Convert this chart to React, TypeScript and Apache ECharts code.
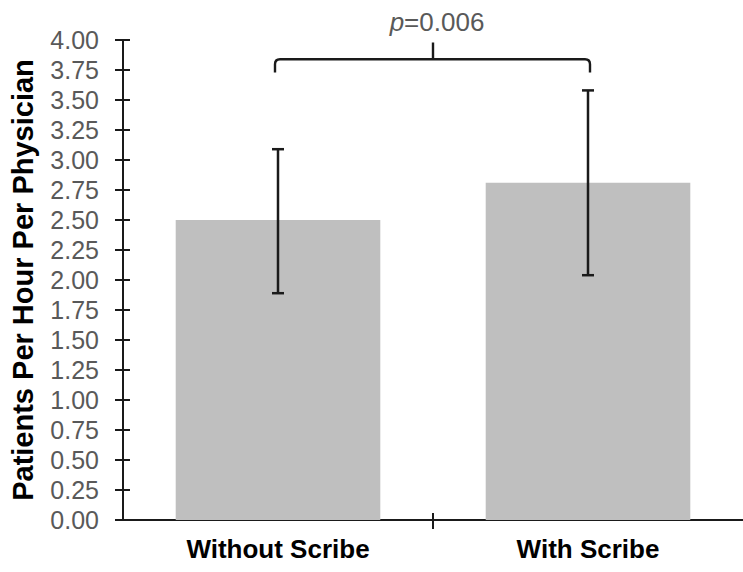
import React, { useEffect, useRef } from "react";
import * as echarts from "echarts";

const categories = ["Without Scribe", "With Scribe"];
const means = [2.5, 2.81];
const errLow = [1.89, 2.04];
const errHigh = [3.09, 3.58];
const yMin = 0;
const yMax = 4;
const yStep = 0.25;
const pLabel = "=0.006";
// bracket annotation levels (value units)
const bracketLevel = 3.84;
const bracketEnd = 3.73;
const bracketPeak = 3.98;
const pTextLevel = 4.15;

const FONT = "'Liberation Sans', Arial, sans-serif";
const INK = "#1a1a1a";

export default function App() {
  const ref = useRef<HTMLDivElement>(null);
  useEffect(() => {
    if (!ref.current) return;
    const chart = echarts.init(ref.current, null, { renderer: "svg" });
    const yAxisBase = {
      type: "value",
      min: yMin,
      max: yMax,
      interval: yStep,
      position: "left",
      splitLine: { show: false },
    };
    const option: any = {
      animation: false,
      backgroundColor: "#ffffff",
      grid: { left: 123, top: 40, width: 624, height: 480, containLabel: false },
      xAxis: {
        type: "category",
        data: categories,
        position: "bottom",
        axisLine: { show: true, lineStyle: { color: INK, width: 2 } },
        axisTick: { show: false },
        axisLabel: {
          color: "#000",
          fontFamily: FONT,
          fontWeight: "bold",
          fontSize: 26,
          margin: 16,
        },
      },
      yAxis: [
        {
          ...yAxisBase,
          name: "Patients Per Hour Per Physician",
          nameLocation: "middle",
          nameGap: 86,
          nameTextStyle: {
            color: "#000",
            fontFamily: FONT,
            fontWeight: "bold",
            fontSize: 29,
          },
          axisLine: { show: true, lineStyle: { color: INK, width: 2 } },
          axisTick: { show: true, length: 8, lineStyle: { color: INK, width: 2 } },
          axisLabel: {
            color: "#595959",
            fontFamily: FONT,
            fontSize: 25,
            margin: 24,
            formatter: (v: number) => v.toFixed(2),
          },
        },
        {
          ...yAxisBase,
          axisLine: { show: false },
          axisTick: { show: true, inside: true, length: 7, lineStyle: { color: INK, width: 2 } },
          axisLabel: { show: false },
        },
      ],
      series: [
        {
          type: "bar",
          data: means,
          barWidth: "66%",
          itemStyle: { color: "#bfbfbf" },
          yAxisIndex: 0,
          z: 1,
        },
        {
          type: "custom",
          yAxisIndex: 0,
          z: 5,
          data: categories.map((_, i) => [i, errLow[i], errHigh[i]]),
          renderItem: (params: any, api: any) => {
            const i = api.value(0);
            const lo = api.coord([i, api.value(1)]);
            const hi = api.coord([i, api.value(2)]);
            const half = 6;
            const style = { stroke: INK, lineWidth: 2.5, fill: "none" };
            return {
              type: "group",
              children: [
                { type: "line", shape: { x1: lo[0], y1: lo[1], x2: hi[0], y2: hi[1] }, style },
                { type: "line", shape: { x1: hi[0] - half, y1: hi[1], x2: hi[0] + half, y2: hi[1] }, style },
                { type: "line", shape: { x1: lo[0] - half, y1: lo[1], x2: lo[0] + half, y2: lo[1] }, style },
              ],
            };
          },
        },
        {
          // category boundary tick crossing the x axis, between the two categories
          type: "custom",
          yAxisIndex: 0,
          z: 6,
          clip: false,
          data: [[0, 1]],
          renderItem: (params: any, api: any) => {
            const a = api.coord([api.value(0), yMin]);
            const b = api.coord([api.value(1), yMin]);
            const xm = (a[0] + b[0]) / 2;
            return {
              type: "line",
              shape: { x1: xm, y1: a[1] - 7, x2: xm, y2: a[1] + 9 },
              style: { stroke: INK, lineWidth: 2 },
            };
          },
        },
        {
          type: "custom",
          yAxisIndex: 0,
          z: 6,
          clip: false,
          data: [[0, 1]],
          renderItem: (params: any, api: any) => {
            const a = api.coord([api.value(0), bracketLevel]);
            const b = api.coord([api.value(1), bracketLevel]);
            const aEnd = api.coord([api.value(0), bracketEnd]);
            const peak = api.coord([api.value(0), bracketPeak]);
            const txtPt = api.coord([api.value(0), pTextLevel]);
            const x0 = a[0] - 3;
            const x1 = b[0] + 2;
            const yH = a[1];
            const yE = aEnd[1];
            const r = 5;
            const xm = (a[0] + b[0]) / 2;
            const d =
              `M${x0} ${yE} L${x0} ${yH + r} Q${x0} ${yH} ${x0 + r} ${yH} ` +
              `L${x1 - r} ${yH} Q${x1} ${yH} ${x1} ${yH + r} L${x1} ${yE} ` +
              `M${xm} ${yH} L${xm} ${peak[1]}`;
            return {
              type: "group",
              children: [
                {
                  type: "path",
                  shape: { pathData: d },
                  style: { stroke: INK, lineWidth: 2.4, fill: "none" },
                },
                {
                  type: "text",
                  x: xm + 4,
                  y: txtPt[1],
                  style: {
                    text: "{i|p}" + pLabel,
                    fill: "#595959",
                    font: `26px ${FONT}`,
                    align: "center",
                    verticalAlign: "middle",
                    rich: {
                      i: { fontStyle: "italic", fontSize: 26, fontFamily: FONT, fill: "#595959" },
                    },
                  },
                },
              ],
            };
          },
        },
      ],
    };
    chart.setOption(option);
    return () => chart.dispose();
  }, []);
  return (
    <div
      ref={ref}
      style={{ position: "fixed", left: 0, top: 0, width: 743, height: 572, background: "#fff" }}
    />
  );
}
